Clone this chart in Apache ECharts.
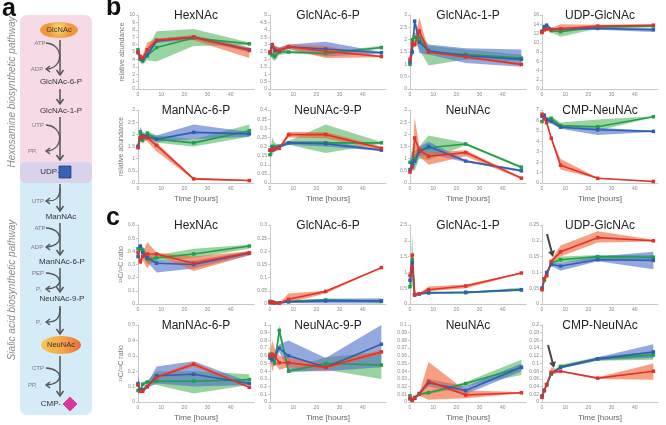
<!DOCTYPE html>
<html><head><meta charset="utf-8">
<script src="https://cdn.jsdelivr.net/npm/echarts@6/dist/echarts.min.js"></script>
<style>html,body{margin:0;padding:0;background:#fff}#c{width:666px;height:425px}</style>
</head><body><div id="c"></div>
<script>
// ---------- data (order of series: green, blue, red) ----------
const hours = [0, 1, 2, 4, 8, 24, 48];
const xTicks = [0, 10, 20, 30, 40];

const bHexNAcMean = [[5.3,4.0,3.8,4.5,5.6,6.9,6.1],[4.9,4.2,4.0,4.6,6.5,7.0,5.3],[5.0,4.4,4.2,5.3,6.6,7.0,5.2]];
const bHexNAcLow  = [[5.0,3.6,3.3,3.9,3.7,5.8,5.9],[4.7,3.9,3.7,4.3,6.2,6.7,5.0],[4.7,4.0,3.8,4.5,6.4,6.6,4.2]];
const bHexNAcHigh = [[5.5,4.4,4.3,5.4,7.8,8.1,6.3],[5.2,4.5,4.3,5.0,6.8,7.2,5.6],[5.3,4.7,4.6,6.3,6.8,7.3,5.6]];

const bGlcNAc6PMean = [[2.4,2.3,2.2,2.5,2.5,2.4,2.8],[2.5,2.9,2.6,2.6,2.85,2.7,2.45],[2.5,3.0,2.7,2.6,2.85,2.55,2.2]];
const bGlcNAc6PLow  = [[2.3,2.0,1.9,2.3,2.4,2.3,2.7],[2.4,2.7,2.3,2.4,2.7,2.2,2.4],[2.4,2.8,2.0,2.4,2.7,2.1,2.15]];
const bGlcNAc6PHigh = [[2.5,2.6,2.6,2.7,2.6,2.5,2.9],[2.6,3.1,2.9,2.8,3.0,3.2,2.5],[2.6,3.2,2.9,2.8,3.0,2.9,2.25]];

const bGlcNAc1PMean = [[1.0,2.0,2.1,2.05,1.5,1.4,1.25],[1.1,1.5,2.75,1.9,1.55,1.35,1.2],[1.2,1.85,1.8,2.35,1.5,1.3,1.0]];
const bGlcNAc1PLow  = [[0.95,1.8,1.9,1.6,0.95,1.2,1.1],[1.05,1.4,2.6,1.45,1.4,1.05,0.9],[1.15,1.75,1.7,1.9,1.45,1.25,0.95]];
const bGlcNAc1PHigh = [[1.05,2.2,2.3,2.2,1.75,1.6,1.4],[1.15,1.6,2.85,2.3,1.8,1.65,1.6],[1.25,1.95,1.9,2.9,1.55,1.35,1.05]];

const bUDPGlcNAcMean = [[12.5,13.2,13.2,12.6,12.4,13.4,13.6],[12.4,13.5,13.8,12.9,13.0,13.1,12.8],[12.2,12.8,13.0,12.8,13.0,13.6,13.8]];
const bUDPGlcNAcLow  = [[12.3,12.9,12.9,12.2,11.3,13.1,13.4],[12.2,13.2,13.5,12.6,12.7,12.8,12.3],[12.0,12.4,12.6,12.5,12.5,13.3,13.6]];
const bUDPGlcNAcHigh = [[12.7,13.5,13.5,13.0,13.2,13.6,13.8],[12.6,13.8,14.1,13.2,13.3,13.4,13.2],[12.4,13.2,13.4,13.2,14.0,13.9,14.0]];

const bManNAc6PMean = [[1.5,2.1,1.75,2.05,1.8,1.65,2.15],[1.5,1.85,1.95,1.9,1.8,2.08,2.02],[1.45,1.85,1.9,1.85,1.55,0.17,0.1]];
const bManNAc6PLow  = [[1.45,1.9,1.6,1.9,1.65,1.5,1.9],[1.45,1.7,1.8,1.8,1.7,1.8,1.9],[1.4,1.75,1.8,1.7,1.3,0.12,0.08]];
const bManNAc6PHigh = [[1.55,2.2,1.9,2.15,1.95,1.8,2.4],[1.55,2.3,2.1,2.0,1.95,2.4,2.1],[1.5,1.95,2.0,2.0,1.65,0.22,0.12]];

const bNeuNAc9PMean = [[0.155,0.2,0.2,0.2,0.22,0.22,0.22],[0.18,0.19,0.185,0.2,0.22,0.215,0.18],[0.18,0.18,0.19,0.19,0.265,0.265,0.19]];
const bNeuNAc9PLow  = [[0.15,0.15,0.18,0.19,0.21,0.165,0.215],[0.16,0.17,0.17,0.19,0.21,0.2,0.175],[0.17,0.17,0.18,0.18,0.25,0.245,0.18]];
const bNeuNAc9PHigh = [[0.16,0.25,0.22,0.21,0.23,0.32,0.225],[0.21,0.21,0.2,0.21,0.23,0.23,0.185],[0.19,0.19,0.2,0.2,0.28,0.28,0.2]];

const bNeuNAcMean = [[0.85,0.9,1.0,1.3,1.45,1.6,0.65],[0.55,0.8,0.9,1.3,1.5,0.9,0.5],[0.45,0.65,1.85,1.35,1.1,1.25,0.2]];
const bNeuNAcLow  = [[0.75,0.5,0.5,1.0,0.95,1.55,0.6],[0.45,0.6,0.7,1.1,1.2,0.85,0.45],[0.4,0.55,1.0,1.1,0.75,1.1,0.15]];
const bNeuNAcHigh = [[0.95,1.5,1.3,1.5,1.95,1.65,0.7],[0.65,1.3,1.1,1.5,1.7,0.95,0.55],[0.5,0.75,2.7,1.5,1.25,1.35,0.25]];

const bCMPNeuNAcMean = [[5.9,6.2,6.0,6.2,5.5,5.4,6.35],[6.4,6.5,6.1,5.9,5.35,5.1,4.95],[6.6,6.2,5.8,4.3,1.7,0.45,0.15]];
const bCMPNeuNAcLow  = [[5.8,6.0,5.8,6.0,5.3,5.0,6.3],[6.2,6.3,5.9,5.7,5.2,4.6,4.9],[6.5,6.0,5.6,4.2,1.3,0.4,0.1]];
const bCMPNeuNAcHigh = [[6.0,6.4,6.2,6.4,5.8,6.1,6.4],[6.6,6.7,6.3,6.1,5.5,5.3,5.0],[6.7,6.4,6.0,4.4,2.3,0.5,0.2]];

const cHexNAcMean = [[0.42,0.42,0.41,0.34,0.35,0.38,0.44],[0.36,0.44,0.39,0.35,0.31,0.30,0.385],[0.39,0.32,0.36,0.38,0.38,0.31,0.39]];
const cHexNAcLow  = [[0.4,0.4,0.38,0.3,0.32,0.35,0.42],[0.34,0.42,0.36,0.32,0.24,0.27,0.37],[0.37,0.3,0.33,0.27,0.37,0.25,0.37]];
const cHexNAcHigh = [[0.44,0.44,0.44,0.38,0.37,0.42,0.45],[0.38,0.46,0.42,0.38,0.33,0.33,0.4],[0.41,0.34,0.39,0.47,0.39,0.36,0.4]];

const cGlcNAc6PMean = [[0.01,0.006,0.005,0.004,0.01,0.015,0.01],[0.005,0.005,0.004,0.004,0.008,0.012,0.012],[0.008,0.008,0.005,0.003,0.018,0.048,0.138]];
const cGlcNAc6PLow  = [[0.008,0.004,0.004,0.003,0.007,0.01,0.005],[0.003,0.003,0.003,0.003,0.004,0.002,0.002],[0.006,0.006,0.003,0.002,0.005,0.04,0.137]];
const cGlcNAc6PHigh = [[0.012,0.008,0.006,0.005,0.013,0.02,0.015],[0.007,0.007,0.005,0.005,0.012,0.02,0.022],[0.01,0.01,0.007,0.004,0.04,0.05,0.139]];

const cGlcNAc1PMean = [[0.55,1.4,0.3,0.32,0.36,0.36,0.45],[0.75,1.3,0.28,0.32,0.35,0.37,0.45],[0.9,1.55,0.3,0.32,0.45,0.57,0.98]];
const cGlcNAc1PLow  = [[0.5,0.6,0.28,0.3,0.33,0.34,0.4],[0.7,1.2,0.26,0.3,0.33,0.35,0.42],[0.85,1.3,0.28,0.3,0.4,0.5,0.96]];
const cGlcNAc1PHigh = [[0.6,2.2,0.32,0.34,0.39,0.38,0.52],[0.8,1.4,0.3,0.34,0.37,0.39,0.48],[0.95,1.6,0.32,0.34,0.55,0.62,1.0]];

const cUDPGlcNAcMean = [[0.048,0.075,0.09,0.13,0.14,0.15,0.148],[0.05,0.08,0.1,0.125,0.12,0.14,0.138],[0.045,0.08,0.09,0.135,0.165,0.21,0.2]];
const cUDPGlcNAcLow  = [[0.046,0.072,0.087,0.125,0.13,0.14,0.14],[0.048,0.077,0.097,0.12,0.105,0.135,0.11],[0.043,0.077,0.087,0.13,0.15,0.195,0.198]];
const cUDPGlcNAcHigh = [[0.05,0.078,0.093,0.135,0.15,0.155,0.155],[0.052,0.083,0.103,0.13,0.13,0.15,0.165],[0.047,0.083,0.093,0.14,0.185,0.23,0.203]];

const cManNAc6PMean = [[0.075,0.07,0.115,0.13,0.135,0.135,0.145],[0.12,0.08,0.08,0.1,0.17,0.18,0.12],[0.11,0.07,0.07,0.1,0.16,0.245,0.095]];
const cManNAc6PLow  = [[0.05,0.06,0.1,0.12,0.11,0.055,0.11],[0.08,0.07,0.07,0.09,0.12,0.1,0.11],[0.09,0.06,0.06,0.09,0.15,0.23,0.09]];
const cManNAc6PHigh = [[0.1,0.08,0.13,0.14,0.2,0.2,0.18],[0.18,0.09,0.09,0.12,0.23,0.265,0.13],[0.13,0.08,0.08,0.11,0.17,0.26,0.1]];

const cNeuNAc9PMean = [[0.62,0.6,0.5,0.93,0.4,0.5,0.48],[0.57,0.55,0.6,0.7,0.6,0.45,0.75],[0.6,0.62,0.6,0.51,0.51,0.45,0.65]];
const cNeuNAc9PLow  = [[0.58,0.55,0.45,0.85,0.38,0.42,0.3],[0.52,0.5,0.55,0.65,0.4,0.4,0.45],[0.55,0.4,0.5,0.42,0.45,0.42,0.62]];
const cNeuNAc9PHigh = [[0.66,0.65,0.55,1.0,0.42,0.58,0.65],[0.62,0.6,0.65,0.75,0.8,0.57,1.0],[0.65,0.8,0.7,0.6,0.57,0.5,0.68]];

const cNeuNAcMean = [[0.008,0.003,0.005,0.01,0.012,0.024,0.045],[0.004,0.003,0.005,0.011,0.025,0.015,0.045],[0.005,0.002,0.006,0.01,0.027,0.009,0.012]];
const cNeuNAcLow  = [[0.006,0.002,0.004,0.008,0.01,0.02,0.035],[0.003,0.002,0.004,0.009,0.02,0.01,0.04],[0.004,0.001,0.004,0.008,0.003,0.005,0.011]];
const cNeuNAcHigh = [[0.01,0.004,0.006,0.012,0.014,0.026,0.055],[0.005,0.004,0.006,0.013,0.03,0.02,0.05],[0.006,0.003,0.008,0.012,0.052,0.015,0.013]];

const cCMPNeuNAcMean = [[0.015,0.03,0.045,0.072,0.092,0.112,0.122],[0.015,0.03,0.045,0.075,0.09,0.112,0.13],[0.012,0.03,0.045,0.077,0.08,0.062,0.08]];
const cCMPNeuNAcLow  = [[0.013,0.028,0.043,0.069,0.087,0.107,0.11],[0.013,0.028,0.043,0.072,0.087,0.108,0.115],[0.01,0.028,0.043,0.07,0.078,0.06,0.058]];
const cCMPNeuNAcHigh = [[0.017,0.032,0.047,0.075,0.097,0.117,0.132],[0.017,0.032,0.047,0.078,0.093,0.116,0.15],[0.014,0.032,0.047,0.09,0.082,0.064,0.1]];

const panelTitles = ['HexNAc','GlcNAc-6-P','GlcNAc-1-P','UDP-GlcNAc','ManNAc-6-P','NeuNAc-9-P','NeuNAc','CMP-NeuNAc',
                     'HexNAc','GlcNAc-6-P','GlcNAc-1-P','UDP-GlcNAc','ManNAc-6-P','NeuNAc-9-P','NeuNAc','CMP-NeuNAc'];
const yMaxes = [10,5,3,16, 3,0.4,3,7, 0.6,0.3,2.5,0.25, 0.5,1,0.1,0.2];
const ySteps = [1,0.5,0.5,2, 0.5,0.05,0.5,1, 0.1,0.05,0.5,0.05, 0.1,0.1,0.01,0.02];
const yNames = ['relative abundance','relative abundance','¹³C/¹²C ratio','¹³C/¹²C ratio'];
const seriesNames = ['green','blue','red'];

// ---------- build ----------
const panelData = [
  [bHexNAcMean,bHexNAcLow,bHexNAcHigh],[bGlcNAc6PMean,bGlcNAc6PLow,bGlcNAc6PHigh],[bGlcNAc1PMean,bGlcNAc1PLow,bGlcNAc1PHigh],[bUDPGlcNAcMean,bUDPGlcNAcLow,bUDPGlcNAcHigh],
  [bManNAc6PMean,bManNAc6PLow,bManNAc6PHigh],[bNeuNAc9PMean,bNeuNAc9PLow,bNeuNAc9PHigh],[bNeuNAcMean,bNeuNAcLow,bNeuNAcHigh],[bCMPNeuNAcMean,bCMPNeuNAcLow,bCMPNeuNAcHigh],
  [cHexNAcMean,cHexNAcLow,cHexNAcHigh],[cGlcNAc6PMean,cGlcNAc6PLow,cGlcNAc6PHigh],[cGlcNAc1PMean,cGlcNAc1PLow,cGlcNAc1PHigh],[cUDPGlcNAcMean,cUDPGlcNAcLow,cUDPGlcNAcHigh],
  [cManNAc6PMean,cManNAc6PLow,cManNAc6PHigh],[cNeuNAc9PMean,cNeuNAc9PLow,cNeuNAc9PHigh],[cNeuNAcMean,cNeuNAcLow,cNeuNAcHigh],[cCMPNeuNAcMean,cCMPNeuNAcLow,cCMPNeuNAcHigh]
];

const FONT = 'Liberation Sans, Arial, sans-serif';
const colLeft = [138, 270, 410, 542];
const plotW = 116;
const rowTop = [15, 110, 225, 325];
const rowH = [74, 73, 79, 77];
const lineColors = ['#1f9e4b', '#2f5fb3', '#e0322a'];
const bandColors = ['rgba(70,175,80,0.55)', 'rgba(75,110,200,0.6)', 'rgba(242,100,55,0.62)'];

const grids = [], xAxes = [], yAxes = [], series = [], graphics = [];
panelData.forEach(function (pd, gi) {
  const r = Math.floor(gi / 4), c = gi % 4;
  grids.push({left: colLeft[c], top: rowTop[r], width: plotW, height: rowH[r]});
  xAxes.push({
    type: 'value', gridIndex: gi, min: 0, max: 50, interval: 10,
    axisLine: {lineStyle: {color: '#c8c8c8', width: 1}}, axisTick: {show: false},
    splitLine: {show: false},
    axisLabel: {fontSize: 5, color: '#888', margin: 3, fontFamily: FONT,
      formatter: function (v) { return xTicks.indexOf(v) >= 0 ? String(v) : ''; }},
    name: (r === 1 || r === 3) ? 'Time [hours]' : '', nameLocation: 'middle', nameGap: 12,
    nameTextStyle: {fontSize: 8, color: '#666', fontFamily: FONT}
  });
  yAxes.push({
    type: 'value', gridIndex: gi, min: 0, max: yMaxes[gi], interval: ySteps[gi],
    axisLine: {show: true, lineStyle: {color: '#c8c8c8', width: 1}},
    axisTick: {show: true, length: 2, lineStyle: {color: '#c8c8c8'}},
    splitLine: {show: false},
    axisLabel: {fontSize: 5, color: '#888', margin: 3, fontFamily: FONT},
    name: c === 0 ? yNames[r] : '', nameLocation: 'middle', nameGap: 12,
    nameTextStyle: {fontSize: 7, color: '#777', fontFamily: FONT}
  });
  const mean = pd[0], low = pd[1], high = pd[2];
  for (let s = 0; s < 3; s++) {
    const lo = low[s], hi = high[s];
    series.push({
      type: 'custom', name: seriesNames[s] + ' band', xAxisIndex: gi, yAxisIndex: gi, silent: true, z: 1,
      data: hours.map(function (t, i) { return [t, lo[i], hi[i]]; }),
      encode: {x: 0, y: [1, 2]},
      renderItem: (function (lo, hi, col) {
        return function (params, api) {
          if (params.dataIndex !== 0) return null;
          const pts = [];
          for (let i = 0; i < hours.length; i++) pts.push(api.coord([hours[i], hi[i]]));
          for (let i = hours.length - 1; i >= 0; i--) pts.push(api.coord([hours[i], lo[i]]));
          return {type: 'polygon', shape: {points: pts}, style: {fill: col}};
        };
      })(lo, hi, bandColors[s])
    });
  }
  for (let s = 0; s < 3; s++) {
    series.push({
      type: 'line', name: seriesNames[s], xAxisIndex: gi, yAxisIndex: gi, z: 3,
      data: hours.map(function (t, i) { return [t, mean[s][i]]; }),
      symbol: 'rect', symbolSize: 3.5, showSymbol: true,
      lineStyle: {color: lineColors[s], width: 1.6},
      itemStyle: {color: lineColors[s]}
    });
  }
  graphics.push({type: 'text', x: colLeft[c] + plotW / 2, y: rowTop[r] + 1, z: 10,
    style: {text: panelTitles[gi], fontSize: 12, fontFamily: FONT, fill: '#222',
      align: 'center', verticalAlign: 'middle', textAlign: 'center', textVerticalAlign: 'middle'}});
});

// panel letters
function label(txt, x, y) {
  graphics.push({type: 'text', x: x, y: y, z: 10,
    style: {text: txt, fontSize: 25, fontWeight: 'bold', fontFamily: FONT, fill: '#111',
      align: 'left', verticalAlign: 'top', textAlign: 'left', textVerticalAlign: 'top'}});
}
label('a', 2, -3); label('b', 106, -4); label('c', 106, 206);

// annotation arrows in panel c
function bigArrow(x1, y1, x2, y2) {
  const ang = Math.atan2(y2 - y1, x2 - x1), L = 6, W = 3.5;
  const bx = x2 - L * Math.cos(ang), by = y2 - L * Math.sin(ang);
  graphics.push({type: 'line', z: 10, shape: {x1: x1, y1: y1, x2: bx, y2: by}, style: {stroke: '#444', lineWidth: 2}});
  graphics.push({type: 'polygon', z: 10, shape: {points: [[x2, y2],
    [bx + W * Math.sin(ang), by - W * Math.cos(ang)], [bx - W * Math.sin(ang), by + W * Math.cos(ang)]]},
    style: {fill: '#444'}});
}
bigArrow(547, 234, 553, 257);
bigArrow(548, 345, 554, 368);

// ---------- panel a: pathway ----------
const AX = 60;
function rect(x, y, w, h, fill, r) { graphics.push({type: 'rect', z: 0, shape: {x: x, y: y, width: w, height: h, r: r}, style: {fill: fill}}); }
rect(20, 15, 72, 162, '#f6dbe7', 7);
rect(20, 176, 72, 239, '#d5ebf7', 7);
rect(20, 162, 72, 21, '#d8d2ea', 5);

function txt(t, x, y, size, color, weight, align) {
  graphics.push({type: 'text', x: x, y: y, z: 5, style: {text: t, fontSize: size, fontFamily: FONT, fill: color,
    fontWeight: weight || 'normal', align: align || 'center', verticalAlign: 'middle',
    textAlign: align || 'center', textVerticalAlign: 'middle'}});
}
function mainArrow(y1, y2) {
  graphics.push({type: 'line', z: 4, shape: {x1: AX, y1: y1, x2: AX, y2: y2}, style: {stroke: '#555', lineWidth: 1.5}});
  graphics.push({type: 'polyline', z: 4, shape: {points: [[AX - 3.5, y2 - 5], [AX, y2], [AX + 3.5, y2 - 5]]}, style: {stroke: '#555', lineWidth: 1.5, fill: null}});
}
function sideHead(x, y) {
  graphics.push({type: 'polyline', z: 4, shape: {points: [[x + 4, y - 3], [x, y], [x + 4, y + 3]]}, style: {stroke: '#555', lineWidth: 1.3, fill: null}});
}
function sideCurve(yIn, yOut) {
  graphics.push({type: 'bezierCurve', z: 4, shape: {x1: 46, y1: yIn, cpx1: 64, cpy1: yIn + 1, cpx2: 64, cpy2: yOut - 1, x2: 47, y2: yOut},
    style: {stroke: '#555', lineWidth: 1.3, fill: null}});
  sideHead(46, yOut);
}
function outCurve(yStart, yOut) {
  graphics.push({type: 'bezierCurve', z: 4, shape: {x1: AX, y1: yStart, cpx1: AX, cpy1: yOut - 2, cpx2: 55, cpy2: yOut, x2: 47, y2: yOut},
    style: {stroke: '#555', lineWidth: 1.3, fill: null}});
  sideHead(46, yOut);
}

// GlcNAc ellipse
graphics.push({type: 'ellipse', z: 4, shape: {cx: 59, cy: 30, rx: 19, ry: 8},
  style: {fill: {type: 'radial', x: 0.5, y: 0.4, r: 0.7, colorStops: [{offset: 0, color: '#fbe07a'}, {offset: 1, color: '#f0973a'}]}}});
txt('GlcNAc', 59, 30, 7.5, '#333');
mainArrow(40, 75); txt('ATP', 40, 43, 6, '#777'); txt('ADP', 37, 69, 6, '#777'); sideCurve(43, 69);
txt('GlcNAc-6-P', 61, 82, 8, '#333');
mainArrow(89, 104);
txt('GlcNAc-1-P', 61, 111, 8, '#333');
mainArrow(117, 160); txt('UTP', 38, 125, 6, '#777'); txt('PP', 32, 151, 6, '#777'); txt('i', 36, 153, 4, '#777'); sideCurve(125, 151);
txt('UDP-', 50, 172, 8, '#333');
graphics.push({type: 'rect', z: 5, shape: {x: 59, y: 166, width: 12, height: 12}, style: {fill: '#3b5fb5', stroke: '#24417f', lineWidth: 0.8}});
mainArrow(184, 211); txt('UTP', 38, 201, 6, '#777'); outCurve(188, 201);
txt('ManNAc', 61, 217, 8, '#333');
mainArrow(223, 255); txt('ATP', 40, 228, 6, '#777'); txt('ADP', 37, 247, 6, '#777'); sideCurve(228, 247);
txt('ManNAc-6-P', 62, 262, 8, '#333');
mainArrow(268, 292); txt('PEP', 38, 273, 6, '#777'); txt('P', 38, 289, 6, '#777'); txt('i', 41, 291, 4, '#777'); sideCurve(273, 289);
txt('NeuNAc-9-P', 62, 299, 8, '#333');
mainArrow(306, 334); txt('P', 38, 322, 6, '#777'); txt('i', 41, 324, 4, '#777'); outCurve(308, 322);
graphics.push({type: 'ellipse', z: 4, shape: {cx: 61, cy: 345, rx: 20, ry: 9},
  style: {fill: {type: 'linear', x: 0, y: 0, x2: 1, y2: 0, colorStops: [{offset: 0, color: '#f8c850'}, {offset: 0.6, color: '#f3a048'}, {offset: 1, color: '#ea6a3a'}]}}});
txt('NeuNAc', 61, 345, 7.5, '#333');
mainArrow(356, 396); txt('CTP', 38, 368, 6, '#777'); txt('PP', 32, 385, 6, '#777'); txt('i', 36, 387, 4, '#777'); sideCurve(368, 385);
txt('CMP-', 51, 404, 8, '#333');
graphics.push({type: 'polygon', z: 5, shape: {points: [[70, 397], [77, 404], [70, 411], [63, 404]]}, style: {fill: '#e0359a', stroke: '#b01f78', lineWidth: 0.6}});

// rotated pathway labels
function rotLabel(t, x, y) {
  graphics.push({type: 'text', x: x, y: y, rotation: Math.PI / 2, z: 5,
    style: {text: t, fontSize: 10, fontStyle: 'italic', fontFamily: FONT, fill: '#8a8a8a',
      align: 'center', verticalAlign: 'middle', textAlign: 'center', textVerticalAlign: 'middle'}});
}
rotLabel('Hexosamine biosynthetic pathway', 12, 92);
rotLabel('Sialic acid biosynthetic pathway', 12, 290);

const chart = echarts.init(document.getElementById('c'), null, {renderer: 'canvas'});
chart.setOption({
  animation: false,
  backgroundColor: '#fff',
  grid: grids, xAxis: xAxes, yAxis: yAxes, series: series,
  graphic: graphics
});
</script></body></html>
